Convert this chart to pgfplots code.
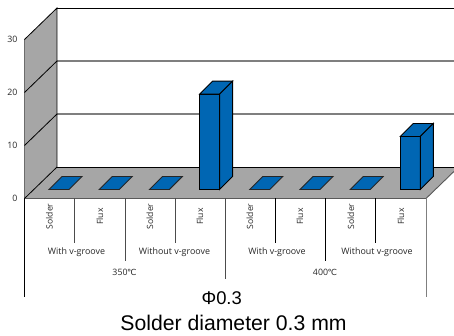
\documentclass[border=0pt]{standalone}
\usepackage{pgfplots}
\pgfplotsset{compat=1.18}
\usepackage{fontspec}
\setmainfont{Open Sans}
\newfontfamily\arial{Liberation Sans}
\newfontfamily\djv{DejaVu Sans}
\newcommand{\degc}{\kern-0.5pt{\djv\fontsize{8.4}{9}\selectfont ℃}}
\definecolor{wallgray}{HTML}{A6A6A6}
\definecolor{gridgray}{HTML}{7F7F7F}
\definecolor{barblue}{HTML}{0066B3}
\newcommand{\px}[2]{(#1pt,{336pt-#2pt})}
\begin{document}
\begin{tikzpicture}[x=1pt,y=1pt]
\useasboundingbox (0,0) rectangle (454pt,336pt);
% walls and floor on the main axis
\begin{axis}[
  at={(24.5pt,137.5pt)},anchor=origin,
  scale only axis,width=429.5pt,height=159pt,
  xmin=0.5,xmax=9.057,ymin=0,ymax=30,
  clip=false,
  axis y line=left,axis x line=none,
  y axis line style={-,black,line width=0.9pt},
  ytick={0,10,20,30},
  ytick style={draw=none},
  tick label style={font=\fontsize{8.8}{10}\selectfont,text=black!85},
  /pgf/number format/assume math mode=true,
  yticklabel style={xshift=-1.5pt},
]
\addplot[fill=wallgray,draw=none] coordinates {(0.5,0)(0.5,30)(1.1475,35.94)(1.1475,5.94)} -- cycle;
\addplot[fill=wallgray,draw=none] coordinates {(1.1475,5.94)(9.057,5.94)(9.057,5.11)(8.5,0)(0.5,0)} -- cycle;
\addplot[gridgray,line width=1.2pt] coordinates {(1.1475,15.94)(9.057,15.94)};
\addplot[gridgray,line width=1.2pt] coordinates {(1.1475,25.94)(9.057,25.94)};
\addplot[black,line width=0.9pt] coordinates {(1.1475,35.94)(9.057,35.94)};
\addplot[black,line width=0.9pt] coordinates {(1.1475,5.94)(9.057,5.94)};
\addplot[black,line width=0.8pt] coordinates {(0.5,0)(1.1475,5.94)(1.1475,35.94)(0.5,30)};
\addplot[black,line width=0.8pt] coordinates {(0.5,10)(1.1475,15.94)};
\addplot[black,line width=0.8pt] coordinates {(0.5,20)(1.1475,25.94)};
\addplot[gridgray!70!black,line width=1.1pt] coordinates {(0.5,0)(8.5,0)};
\addplot[gridgray!70!black,line width=0.9pt] coordinates {(8.5,0)(9.057,5.11)};
\end{axis}
% bars sit in the floor, 9.4 px right and 9 px up of the front edge
\begin{axis}[
  at={(33.9pt,146.5pt)},anchor=origin,
  scale only axis,width=429.5pt,height=159pt,
  xmin=0.5,xmax=9.057,ymin=0,ymax=30,
  clip=false,axis lines=none,
]
\addplot[ybar,bar width=20pt,fill=barblue,draw=black,line width=0.9pt] coordinates {(1,0)(2,0)(3,0)(4,18)(5,0)(6,0)(7,0)(8,10)};
\pgfplotsinvokeforeach{1,2,3,5,6,7}{
  \addplot[fill=barblue,draw=black!85,line width=0.9pt] coordinates {(#1-0.199,0)(#1+0.199,0)(#1+0.458,2.453)(#1+0.060,2.453)} -- cycle;
}
\addplot[fill=barblue,draw=black,line width=0.9pt] coordinates {(3.801,18)(4.199,18)(4.458,20.453)(4.060,20.453)} -- cycle;
\addplot[fill=barblue,draw=black,line width=0.9pt] coordinates {(4.199,0)(4.458,2.453)(4.458,20.453)(4.199,18)} -- cycle;
\addplot[fill=barblue,draw=black,line width=0.9pt] coordinates {(7.801,10)(8.199,10)(8.458,12.453)(8.060,12.453)} -- cycle;
\addplot[fill=barblue,draw=black,line width=0.9pt] coordinates {(8.199,0)(8.458,2.453)(8.458,12.453)(8.199,10)} -- cycle;
\end{axis}
% multi-level category axis
\draw[black,line width=0.9pt] \px{24.5}{198.5} -- \px{24.5}{297};
\draw[gridgray!60!black,line width=0.9pt] \px{74.7}{198.5} -- \px{74.7}{243};
\draw[gridgray!60!black,line width=0.9pt] \px{125}{198.5} -- \px{125}{261};
\draw[gridgray!60!black,line width=0.9pt] \px{175}{198.5} -- \px{175}{243};
\draw[gridgray!60!black,line width=0.9pt] \px{225}{198.5} -- \px{225}{279};
\draw[black,line width=0.9pt] \px{275.3}{198.5} -- \px{275.3}{243};
\draw[black,line width=0.9pt] \px{325.3}{198.5} -- \px{325.3}{261};
\draw[black,line width=0.9pt] \px{375.3}{198.5} -- \px{375.3}{243};
\draw[gridgray,line width=1pt] \px{426}{198.5} -- \px{426}{297};
\foreach \x/\t in {49.5/Solder,100/Flux,150/Solder,200/Flux,250/Solder,300/Flux,351/Solder,401/Flux}{
  \node[rotate=90,anchor=center,font=\fontsize{8.6}{10}\selectfont,text=black!85,inner sep=0pt] at \px{\x}{216.5} {\t};
}
\foreach \x/\t in {76.5/With v-groove,174.5/Without v-groove,277/With v-groove,377/Without v-groove}{
  \node[font=\fontsize{8.9}{10}\selectfont,text=black!85,inner sep=0pt] at \px{\x}{252.5} {\t};
}
\node[font=\fontsize{8.8}{10}\selectfont,text=black!85,inner sep=0pt] at \px{124.5}{272} {350\degc};
\node[font=\fontsize{8.8}{10}\selectfont,text=black!85,inner sep=0pt] at \px{325}{272} {400\degc};
\node[font=\arial\fontsize{18.4}{20}\selectfont,inner sep=0pt] at \px{221.7}{298} {Φ0.3};
\node[font=\arial\fontsize{21.2}{23}\selectfont,inner sep=0pt] at \px{233.5}{323} {Solder diameter 0.3 mm};
\end{tikzpicture}
\end{document}
